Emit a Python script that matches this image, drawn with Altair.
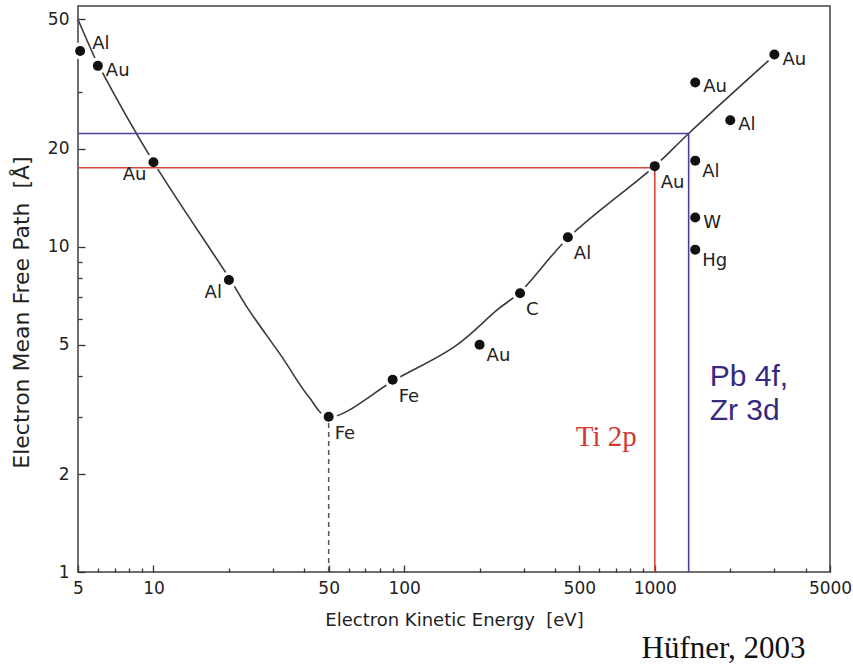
import altair as alt
import pandas as pd

# ---- data ----
elements = ["Al", "Au", "Au", "Al", "Fe", "Fe", "Au", "C", "Al", "Au",
            "Au", "Al", "Al", "W", "Hg", "Au"]
energy = [5.1, 6.0, 10, 20, 50, 90, 200, 290, 450, 1000,
          1450, 2000, 1450, 1450, 1450, 3000]
imfp = [40, 36, 18.2, 7.9, 3.0, 3.9, 5.0, 7.2, 10.7, 17.7,
        32, 24.5, 18.4, 12.3, 9.8, 39]

curve_energy = [5, 5.8, 6.1, 10, 20.3, 23.9, 32.4, 41.5, 50, 93, 160, 237, 290, 454, 1000, 1365, 3000]
curve_imfp = [50, 38.5, 35.6, 18.2, 7.9, 6.43, 4.61, 3.47, 3.0, 3.92, 4.95, 6.43, 7.25, 10.7, 17.7, 22.3, 38.8]

ti_energy, ti_imfp = 1000, 17.5
pb_energy, pb_imfp = 1365, 22.3
fe_min_energy, fe_min_imfp = 50, 3.0

x_major = [5, 10, 50, 100, 500, 1000, 5000]
x_minor = [6, 7, 8, 9, 20, 30, 40, 60, 70, 80, 90, 200, 300, 400,
           600, 700, 800, 900, 2000, 3000, 4000]
y_major = [1, 2, 5, 10, 20, 50]
y_minor = [3, 4, 6, 7, 8, 9, 30, 40]

# label placement groups (indices into the point arrays) -> (dx, dy, align)
label_groups = {
    "upright": ([0], 12, -7, "left"),
    "right": ([1, 10, 11, 13, 15], 8, 5, "left"),
    "below": ([4, 5, 7, 8, 9], 6, 17, "left"),
    "below_small": ([6, 12, 14], 7, 11, "left"),
    "below_left": ([2, 3], -7, 13, "right"),
}

pts = pd.DataFrame({"idx": range(len(elements)), "el": elements, "E": energy, "L": imfp})
curve = pd.DataFrame({"E": curve_energy, "L": curve_imfp})

xs = alt.Scale(type="log", domain=[5, 5000], nice=False)
ys = alt.Scale(type="log", domain=[1, 55], nice=False)

NB = "\u00a0"
XT = "Electron Kinetic Energy" + NB + " [eV]"
YT = "Electron Mean Free Path" + NB + " [Å]"

x_major_axis = alt.Axis(values=x_major, format="d", orient="bottom", tickSize=7, offset=-7,
                        domain=False, grid=False, labelPadding=8, title=XT, titlePadding=15,
                        labelFlush=False)
y_major_axis = alt.Axis(values=y_major, format="d", orient="left", tickSize=7, offset=-7,
                        domain=False, grid=False, labelPadding=9, title=YT, titlePadding=14,
                        titleY=306)
x_minor_axis = alt.Axis(values=x_minor, orient="bottom", tickSize=4, offset=-4, domain=False,
                        grid=False, labels=False, title=None)
y_minor_axis = alt.Axis(values=y_minor, orient="left", tickSize=4, offset=-4, domain=False,
                        grid=False, labels=False, title=None)

line = alt.Chart(curve).mark_line(color="#3a3a3a", strokeWidth=1.6, interpolate="catmull-rom").encode(
    x=alt.X("E:Q", scale=xs, axis=x_major_axis),
    y=alt.Y("L:Q", scale=ys, axis=y_major_axis),
)

halo = alt.Chart(pts).mark_circle(color="white", opacity=1, size=280).encode(
    x=alt.X("E:Q", scale=xs, axis=None),
    y=alt.Y("L:Q", scale=ys, axis=None),
)

refs = pd.DataFrame({
    "x": [5, ti_energy, 5, pb_energy],
    "x2": [ti_energy, ti_energy, pb_energy, pb_energy],
    "y": [ti_imfp, 1, pb_imfp, 1],
    "y2": [ti_imfp, ti_imfp, pb_imfp, pb_imfp],
    "c": ["ti", "ti", "pb", "pb"],
})
ref_rules = alt.Chart(refs).mark_rule(strokeWidth=1.6).encode(
    x=alt.X("x:Q", scale=xs, axis=None),
    x2="x2:Q",
    y=alt.Y("y:Q", scale=ys, axis=None),
    y2="y2:Q",
    color=alt.Color("c:N", scale=alt.Scale(domain=["ti", "pb"], range=["#d4473d", "#4a3f9e"]), legend=None),
)

dash = alt.Chart(pd.DataFrame({"x": [fe_min_energy], "y": [1], "y2": [fe_min_imfp]})).mark_rule(
    color="#555555", strokeWidth=1.5, strokeDash=[5, 4]).encode(
    x=alt.X("x:Q", scale=xs, axis=None),
    y=alt.Y("y:Q", scale=ys, axis=None),
    y2="y2:Q",
)

dots = alt.Chart(pts).mark_circle(color="#111111", opacity=1, size=100).encode(
    x=alt.X("E:Q", scale=xs, axis=x_minor_axis),
    y=alt.Y("L:Q", scale=ys, axis=y_minor_axis),
)

label_layers = []
for name, (idxs, dx, dy, al) in label_groups.items():
    label_layers.append(
        alt.Chart(pts).transform_filter(alt.FieldOneOfPredicate(field="idx", oneOf=idxs))
        .mark_text(dx=dx, dy=dy, align=al, baseline="middle", font="DejaVu Sans",
                   fontSize=18, color="#222222")
        .encode(x=alt.X("E:Q", scale=xs, axis=None),
                y=alt.Y("L:Q", scale=ys, axis=None),
                text="el:N")
    )

ann_ti = alt.Chart(pd.DataFrame({"x": [847], "y": [2.44], "t": ["Ti 2p"]})).mark_text(
    align="right", baseline="alphabetic", font="Liberation Serif", fontSize=29, color="#d13a2f").encode(
    x=alt.X("x:Q", scale=xs, axis=None), y=alt.Y("y:Q", scale=ys, axis=None), text="t:N")

ann_pb = alt.Chart(pd.DataFrame({"x": [1656], "y": [3.73], "t": ["Pb 4f,\nZr 3d"]})).mark_text(
    align="left", baseline="alphabetic", font="Liberation Sans", fontSize=30, color="#35297f",
    lineBreak="\n", lineHeight=34).encode(
    x=alt.X("x:Q", scale=xs, axis=None), y=alt.Y("y:Q", scale=ys, axis=None), text="t:N")

chart = alt.layer(line, halo, ref_rules, dash, dots, *label_layers, ann_ti, ann_pb).resolve_axis(
    x="independent", y="independent"
).properties(
    width=752, height=566,
    autosize=alt.AutoSizeParams(type="none"),
    padding={"left": 78, "top": 6, "right": 23, "bottom": 96},
    title=alt.TitleParams("Hüfner, 2003", orient="bottom", anchor="end", font="Liberation Serif",
                          fontSize=31, fontWeight="normal", color="#111111", dx=-46, offset=5),
).configure_view(stroke="#404040", strokeWidth=1.5).configure_axis(
    labelFont="DejaVu Sans", labelFontSize=17, labelColor="#222222",
    tickColor="#333333", tickWidth=1.3,
    titleFont="DejaVu Sans", titleFontWeight="normal", titleColor="#222222",
).configure_axisX(titleFontSize=18).configure_axisY(titleFontSize=22)

chart.save("out.html", embed_options={"renderer": "svg", "actions": False})
